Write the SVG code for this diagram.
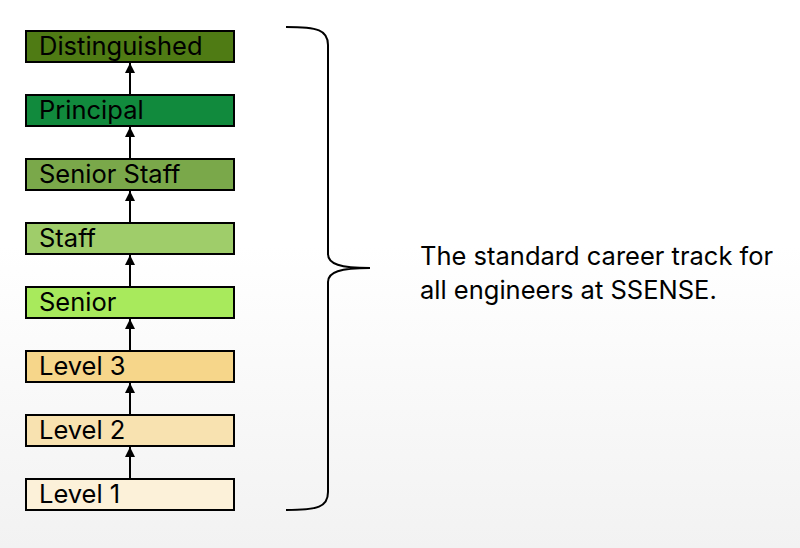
<svg xmlns="http://www.w3.org/2000/svg" width="800" height="548" viewBox="0 0 800 548">
<defs>
<linearGradient id="bg" x1="0" y1="0" x2="0" y2="1"><stop offset="0" stop-color="#ffffff"/><stop offset="0.45" stop-color="#ffffff"/><stop offset="1" stop-color="#f2f2f2"/></linearGradient>
<marker id="ah" markerWidth="10" markerHeight="10" refX="10" refY="5" orient="auto" markerUnits="userSpaceOnUse"><path d="M0,0 L10,5 L0,10 Z" fill="#000"/></marker>
<style>
.b{stroke:#000;stroke-width:2}
.t{font-family:"Inter","Liberation Sans",sans-serif;font-size:25.5px;fill:#000}
.c{stroke:#000;stroke-width:2;fill:none}
</style>
</defs>
<rect width="800" height="548" fill="url(#bg)"/>
<g id="distinguished"><rect class="b" x="26" y="31" width="208" height="31" fill="#4f7b14"/><text class="t" x="39" y="55">Distinguished</text></g>
<g id="principal"><rect class="b" x="26" y="95" width="208" height="31" fill="#118a3d"/><text class="t" x="39" y="119">Principal</text></g>
<g id="senior-staff"><rect class="b" x="26" y="159" width="208" height="31" fill="#7aa84a"/><text class="t" x="39" y="183">Senior Staff</text></g>
<g id="staff"><rect class="b" x="26" y="223" width="208" height="31" fill="#9fcd6a"/><text class="t" x="39" y="247">Staff</text></g>
<g id="senior"><rect class="b" x="26" y="287" width="208" height="31" fill="#a8ea5c"/><text class="t" x="39" y="311">Senior</text></g>
<g id="level3"><rect class="b" x="26" y="351" width="208" height="31" fill="#f6d68a"/><text class="t" x="39" y="375">Level 3</text></g>
<g id="level2"><rect class="b" x="26" y="415" width="208" height="31" fill="#f8e2b0"/><text class="t" x="39" y="439">Level 2</text></g>
<g id="level1"><rect class="b" x="26" y="479" width="208" height="31" fill="#fcf1d9"/><text class="t" x="39" y="503">Level 1</text></g>
<g id="connectors">
<line class="c" x1="130" y1="94" x2="130" y2="63" marker-end="url(#ah)"/>
<line class="c" x1="130" y1="158" x2="130" y2="127" marker-end="url(#ah)"/>
<line class="c" x1="130" y1="222" x2="130" y2="191" marker-end="url(#ah)"/>
<line class="c" x1="130" y1="286" x2="130" y2="255" marker-end="url(#ah)"/>
<line class="c" x1="130" y1="350" x2="130" y2="319" marker-end="url(#ah)"/>
<line class="c" x1="130" y1="414" x2="130" y2="383" marker-end="url(#ah)"/>
<line class="c" x1="130" y1="478" x2="130" y2="447" marker-end="url(#ah)"/>
</g>
<g id="brace"><path class="c" d="M286,27 C318,27 328,30 328,45 L328,254 C328,264 340,268 370,268 C340,268 328,272 328,282 L328,492 C328,507 318,510 286,510"/></g>
<g id="label"><text class="t" x="420" y="265">The standard career track for</text><text class="t" x="420" y="299">all engineers at SSENSE.</text></g>
</svg>
